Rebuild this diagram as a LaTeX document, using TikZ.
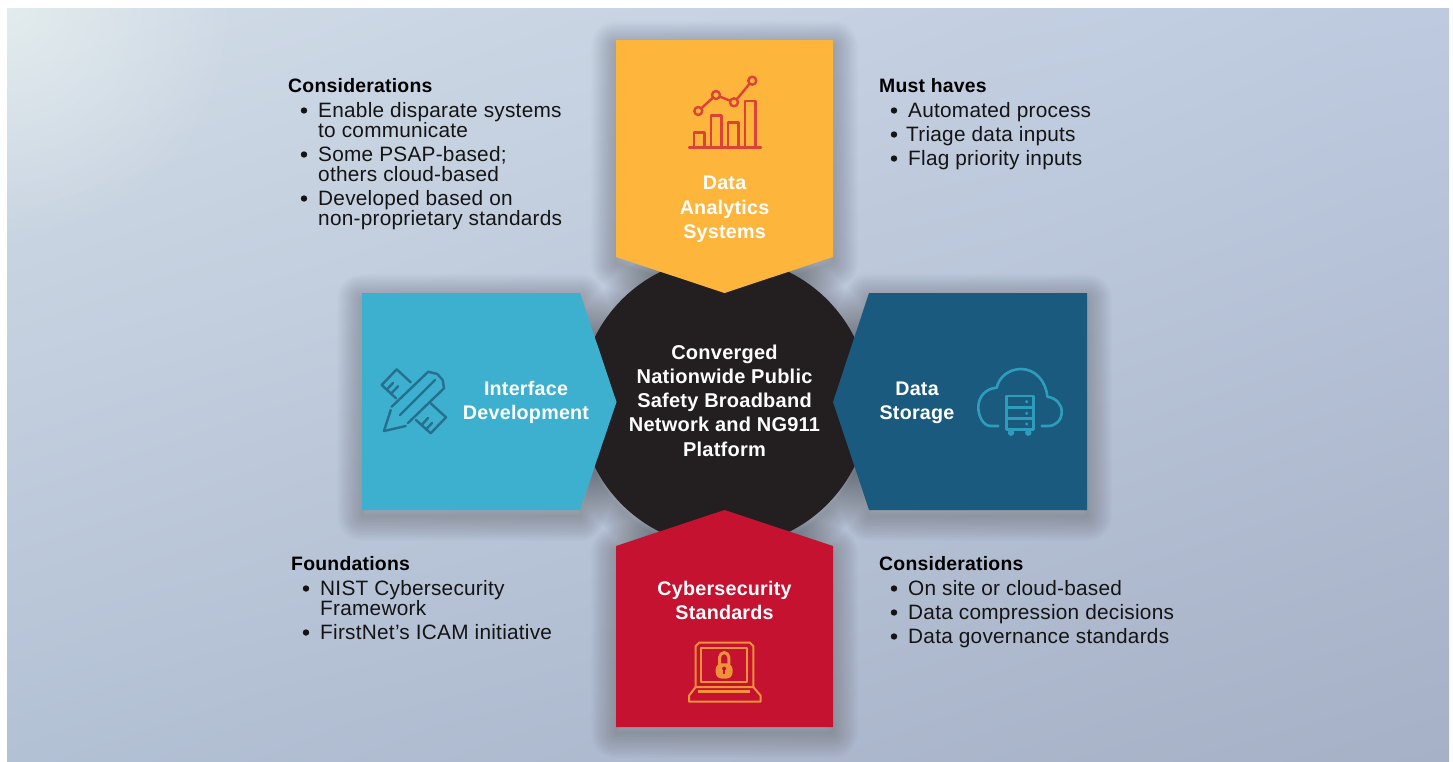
\documentclass[tikz,border=0pt]{standalone}
\usepackage{fontspec}
\setmainfont{Liberation Sans}[LetterSpace=1.2]
\usetikzlibrary{fadings,shadings}
\definecolor{bgTL}{HTML}{D2DCE7}
\definecolor{bgTR}{HTML}{BDCADF}
\definecolor{bgBL}{HTML}{B3C1D5}
\definecolor{bgBR}{HTML}{A6B0C6}
\definecolor{bgGlow}{HTML}{EAF2F0}
\definecolor{amber}{HTML}{FDB53C}
\definecolor{crimson}{HTML}{C41230}
\definecolor{teal1}{HTML}{3CB0CE}
\definecolor{navy1}{HTML}{1B5A7F}
\definecolor{ink}{HTML}{231F20}
\definecolor{txt}{HTML}{141414}
\definecolor{iconA}{HTML}{DC4238}
\definecolor{iconB}{HTML}{F0923A}
\definecolor{iconC}{HTML}{26708F}
\definecolor{iconD}{HTML}{2E9DBC}
\tikzfading[name=cornerglow,inner color=transparent!0,outer color=transparent!100]
\renewcommand{\arraystretch}{0.96}
\tikzset{
  x=1pt,y=-1pt,
  title/.style={font=\fontsize{19.7}{24.3}\selectfont\bfseries,text=white,align=center,inner sep=0pt},
  hubtitle/.style={font=\fontsize{20}{24.2}\selectfont\bfseries,text=white,align=center,inner sep=0pt},
  head/.style={font=\fontsize{19.4}{24}\selectfont\bfseries,text=black,anchor=base west,inner sep=0pt},
  body/.style={font=\fontsize{20.8}{20}\selectfont,text=txt,anchor=base west,inner sep=0pt},
  icon/.style={line width=2.4pt,line join=round,line cap=round},
}
\newcommand{\softshadow}[1]{%
  \begin{scope}[yshift=-6pt]
  \foreach \w in {2,5,...,50}{%
    \draw[black,opacity=.012,line width=\w pt,line join=round] #1;}%
  \end{scope}%
}
\newcommand{\bul}[3]{%
  \fill[txt] (#1,#2-6.5) circle (3.2);%
  \node[body] at (#1+14,#2) {#3};%
}
\newcommand{\twolines}[2]{\begin{tabular}[t]{@{}l@{}}#1\\#2\end{tabular}}
\begin{document}
\begin{tikzpicture}
\useasboundingbox (0,0) rectangle (1453,761);
\shade[upper left=bgTL,upper right=bgTR,lower left=bgBL,lower right=bgBR] (7,761) rectangle (1449,8);
\begin{scope}
\clip (7,8) rectangle (1449,761);
\fill[bgGlow,opacity=.7,path fading=cornerglow] (7,8) circle (230);
\end{scope}

% shadows
\softshadow{(724.5,402) circle (145)}
\softshadow{(616,40)--(833,40)--(833,257)--(724.5,293)--(616,257)--cycle}
\softshadow{(616,727)--(833,727)--(833,546)--(724.5,510)--(616,546)--cycle}
\softshadow{(362,293)--(580,293)--(616.5,402)--(580,510)--(362,510)--cycle}
\softshadow{(1087,293)--(869,293)--(833,402)--(869,510)--(1087,510)--cycle}
% hub
\fill[ink] (724.5,402) circle (145);
% arms
\fill[amber] (616,40)--(833,40)--(833,257)--(724.5,293)--(616,257)--cycle;
\fill[crimson] (616,727)--(833,727)--(833,546)--(724.5,510)--(616,546)--cycle;
\fill[teal1] (362,293)--(580,293)--(616.5,402)--(580,510)--(362,510)--cycle;
\fill[navy1] (1087,293)--(869,293)--(833,402)--(869,510)--(1087,510)--cycle;

% chart icon
\begin{scope}[icon,draw=iconA]
\draw (689,147.5)--(761,147.5);
\draw (694,147.5)--(694,132.5)--(704.5,132.5)--(704.5,147.5);
\draw (711,147.5)--(711,115.5)--(721.5,115.5)--(721.5,147.5);
\draw (728,147.5)--(728,122.5)--(738.5,122.5)--(738.5,147.5);
\draw (745,147.5)--(745,101)--(755.5,101)--(755.5,147.5);
\draw (698.3,111) circle (4);
\draw (716,95) circle (4);
\draw (734,102.3) circle (4);
\draw (752.3,80.7) circle (4);
\draw (701.3,108.3)--(713,97.7);
\draw (719.7,96.6)--(730.3,100.7);
\draw (736.8,99.2)--(749.5,83.8);
\end{scope}

% laptop icon
\begin{scope}[icon,draw=iconB,line width=2pt]
\draw (695.7,687)--(695.7,646)--(699,642.7)--(750,642.7)--(753.3,646)--(753.3,687);
\draw (701,648.3) rectangle (747.3,681.7);
\draw (695.7,687)--(753.3,687)--(760.7,695.7)--(760.7,701.7)--(689,701.7)--(689,695.7)--cycle;
\draw[line width=3pt] (719.5,664)--(719.5,657.5)--(721,654)--(724.2,652.5)--(727.4,654)--(728.9,657.5)--(728.9,664);
\fill[iconB,rounded corners=6pt] (715.7,663.3) rectangle (732.5,678.5);
\fill[crimson] (724.1,668.5) circle (2);
\fill[crimson] (723.3,668.5) rectangle (724.9,674);
\fill[iconB] (698.3,689.7) rectangle (750,692.5);
\end{scope}

% ruler and pencil icon
\begin{scope}[icon,draw=iconC]
\draw (391.7,406.7)--(428.3,371.7)--(437.3,374)--(442.7,380)--(444,388.3)--(407.7,423.3);
\draw (435,380)--(400,415);
\draw (390.7,410)--(384,431)--(405.7,426);
\draw (410.7,382.3)--(396.7,369.3)--(381.7,385)--(396,398.3);
\draw (386.7,389.6)--(393,383);
\draw (391,393.7)--(398,386.3);
\draw (430.7,403.3)--(446,417.3)--(430.7,433.3)--(416,420);
\draw (421.7,425)--(428,418);
\draw (426,429.5)--(432,423);
\end{scope}

% cloud and server icon
\begin{scope}[icon,draw=iconD,line width=2.6pt]
\draw (998.3,426)--(991,426) .. controls (983,426) and (978.3,416) .. (978.3,407) .. controls (978.3,396) and (987,388) .. (996.7,387.7) .. controls (999,377) and (1009,369) .. (1021,369) .. controls (1035,369) and (1046,381) .. (1047.3,396.7) .. controls (1056,398) and (1061.7,404) .. (1061.7,411.7) .. controls (1061.7,420) and (1056,426) .. (1048,426)--(1041.7,426);
\draw (1006.7,396) rectangle (1033.3,429.3);
\draw (1006.7,407.3)--(1033.3,407.3);
\draw (1006.7,418.3)--(1033.3,418.3);
\fill[iconD] (1026.7,401.7) circle (1.7) (1026.7,413.3) circle (1.7) (1026.7,424) circle (1.7);
\fill[iconD] (1011,432.7) circle (3.2) (1028.3,432.7) circle (3.2);
\end{scope}

% titles
\node[hubtitle] (hub) at (724.5,400.5) {Converged\\Nationwide Public\\Safety Broadband\\Network and NG911\\Platform};
\node[title] (top) at (724.5,209.3) {Data\\Analytics\\Systems};
\node[title] (bottom) at (724.5,600.3) {Cybersecurity\\Standards};
\node[title] (left) at (526,402.5) {Interface\\Development};
\node[title] (right) at (917,402.5) {Data\\Storage};

% upper left
\node[head] (h1) at (288,92.5) {Considerations};
\bul{304}{117}{\twolines{Enable disparate systems}{to communicate}}
\bul{304}{161}{\twolines{Some PSAP-based;}{others cloud-based}}
\bul{304}{205}{\twolines{Developed based on}{non-proprietary standards}}
% upper right
\node[head] (h2) at (879,92.5) {Must haves};
\bul{894}{117}{Automated process}
\fill[txt] (894,134.5) circle (3.2);
\node[body] (t2) at (906,141) {Triage data inputs};
\bul{894}{165}{Flag priority inputs}
% lower left
\node[head] (h3) at (291,570.5) {Foundations};
\bul{306}{595}{\twolines{NIST Cybersecurity}{Framework}}
\bul{306}{639}{FirstNet’s ICAM initiative}
% lower right
\node[head] (h4) at (879,570.5) {Considerations};
\bul{894}{595}{On site or cloud-based}
\bul{894}{619}{Data compression decisions}
\bul{894}{643}{Data governance standards}
\end{tikzpicture}
\end{document}
